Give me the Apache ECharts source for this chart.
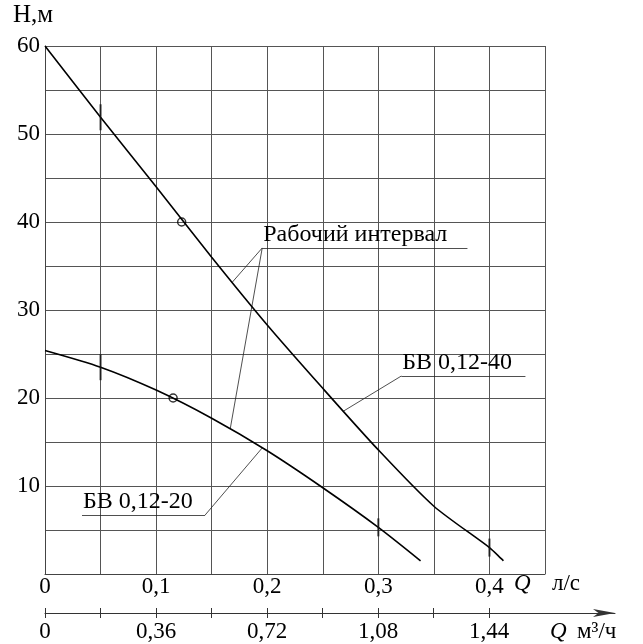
<!DOCTYPE html>
<html>
<head>
<meta charset="utf-8">
<script src="https://cdn.jsdelivr.net/npm/echarts@6/dist/echarts.min.js"></script>
<style>html,body{margin:0;padding:0;background:#fff;}#c{width:643px;height:644px;}</style>
</head>
<body>
<div id="c"></div>
<script>
// ---- data (Q in l/s, H in m) ----
const qUpper = [0, 0.05, 0.1, 0.15, 0.2, 0.25, 0.3, 0.35, 0.4, 0.4126];
const hUpper = [60, 51.9, 44.0, 36.0, 28.3, 21.1, 14.1, 7.7, 3.0, 1.5];
const qLower = [0, 0.05, 0.1, 0.15, 0.2, 0.25, 0.3, 0.338];
const hLower = [25.4, 23.5, 20.9, 17.7, 14.0, 9.8, 5.3, 1.5];
// nominal points (circles)
const qNominal = [0.123, 0.1153];
const hNominal = [40, 20];
// working interval bounds (short vertical strokes)
const qBoundsUpper = [0.05, 0.4];
const hBoundsUpper = [51.9, 3.0];
const qBoundsLower = [0.05, 0.3];
const hBoundsLower = [23.5, 5.3];
// tick labels
const lpsTickValues = [0, 0.1, 0.2, 0.3, 0.4];
const lpsTickLabels = ['0', '0,1', '0,2', '0,3', '0,4'];
const m3hTickLabels = ['0', '0,36', '0,72', '1,08', '1,44'];
const m3hMinorTicks = [0, 0.05, 0.1, 0.15, 0.2, 0.25, 0.3, 0.35, 0.4];
const yLabelValues = [10, 20, 30, 40, 50, 60];
// texts
const labelInterval = 'Рабочий интервал';
const label40 = 'БВ 0,12-40';
const label20 = 'БВ 0,12-20';

const FONT = '"Liberation Serif", "Times New Roman", serif';
const zip = (a, b) => a.map((v, i) => [v, b[i]]);

const chart = echarts.init(document.getElementById('c'), null, {renderer: 'canvas'});

const lineStyleThin = {color: '#222', width: 0.8, type: 'solid'};
const annotLabel = (txt) => ({
  show: true, formatter: txt, position: 'insideStartTop', distance: 1,
  color: '#000', fontFamily: FONT, fontSize: 24, padding: 0
});

const option = {
  animation: false,
  backgroundColor: '#fff',
  grid: [
    {left: 45, right: 98, top: 46, bottom: 70},
    {left: 45, right: 28, top: 590, bottom: 31}
  ],
  xAxis: [
    {
      gridIndex: 0, type: 'value', min: 0, max: 0.45, interval: 0.05,
      axisLine: {show: true, lineStyle: {color: '#444', width: 1}},
      axisTick: {show: false},
      splitLine: {show: true, lineStyle: {color: '#555', width: 1}},
      axisLabel: {
        customValues: lpsTickValues,
        formatter: (v) => lpsTickLabels[lpsTickValues.findIndex(t => Math.abs(t - v) < 1e-6)] ?? '',
        color: '#000', fontFamily: FONT, fontSize: 23, margin: 1
      }
    },
    {
      gridIndex: 1, type: 'value', min: 0, max: 0.5135,
      axisLine: {show: true, lineStyle: {color: '#333', width: 1}, symbol: ['none', 'arrow'], symbolSize: [6, 22]},
      axisTick: {show: true, customValues: m3hMinorTicks, length: 5, inside: false, lineStyle: {color: '#333'}},
      splitLine: {show: false},
      axisLabel: {
        customValues: lpsTickValues,
        formatter: (v) => m3hTickLabels[lpsTickValues.findIndex(t => Math.abs(t - v) < 1e-6)] ?? '',
        color: '#000', fontFamily: FONT, fontSize: 23, margin: 7
      }
    },
    {
      gridIndex: 1, type: 'value', min: 0, max: 0.5135, position: 'bottom',
      axisLine: {show: false},
      axisTick: {show: true, customValues: m3hMinorTicks, length: 5, inside: true, lineStyle: {color: '#333'}},
      splitLine: {show: false},
      axisLabel: {show: false}
    }
  ],
  yAxis: [
    {
      gridIndex: 0, type: 'value', min: 0, max: 60, interval: 5,
      axisLine: {show: true, lineStyle: {color: '#444', width: 1}},
      axisTick: {show: false},
      splitLine: {show: true, lineStyle: {color: '#555', width: 1}},
      axisLabel: {
        formatter: (v) => yLabelValues.includes(v) ? String(v) : '',
        color: '#000', fontFamily: FONT, fontSize: 23, margin: 5
      }
    },
    {
      gridIndex: 1, type: 'value', min: 0, max: 1, show: false
    }
  ],
  series: [
    {
      name: label40, type: 'line', xAxisIndex: 0, yAxisIndex: 0,
      data: zip(qUpper, hUpper), smooth: 0.25, showSymbol: false, symbol: 'none',
      lineStyle: {color: '#000', width: 1.6}, z: 5,
      markLine: {
        silent: true, symbol: 'none', animation: false,
        lineStyle: lineStyleThin,
        data: [
          [{coord: [0.1955, 37.05], label: annotLabel(labelInterval)}, {coord: [0.3802, 37.05]}],
          [{coord: [0.1955, 37.05], label: {show: false}}, {coord: [0.1685, 33.15]}],
          [{coord: [0.1955, 37.05], label: {show: false}}, {coord: [0.1667, 16.5]}],
          [{coord: [0.3207, 22.5], label: annotLabel(label40)}, {coord: [0.4324, 22.5]}],
          [{coord: [0.3207, 22.5], label: {show: false}}, {coord: [0.2685, 18.5]}],
          [{coord: [0.0333, 6.7], label: annotLabel(label20)}, {coord: [0.1441, 6.7]}],
          [{coord: [0.1441, 6.7], label: {show: false}}, {coord: [0.1955, 14.33]}]
        ]
      }
    },
    {
      name: label20, type: 'line', xAxisIndex: 0, yAxisIndex: 0,
      data: zip(qLower, hLower), smooth: 0.25, showSymbol: false, symbol: 'none',
      lineStyle: {color: '#000', width: 1.6}, z: 5
    },
    {
      name: 'bounds', type: 'scatter', xAxisIndex: 0, yAxisIndex: 0,
      data: zip(qBoundsUpper, hBoundsUpper).concat(zip(qBoundsLower, hBoundsLower)),
      symbol: 'rect', symbolSize: (v, p) => [2, (p.dataIndex % 2 === 0) ? 26 : 18],
      itemStyle: {color: '#111'}, z: 6
    },
    {
      name: 'nominal', type: 'scatter', xAxisIndex: 0, yAxisIndex: 0,
      data: zip(qNominal, hNominal),
      symbol: 'circle', symbolSize: 8,
      itemStyle: {color: 'rgba(255,255,255,0)', borderColor: '#000', borderWidth: 1.5}, z: 7
    }
  ],
  graphic: [
    {type: 'text', left: 13, top: 3, style: {text: 'Н,м', fontFamily: FONT, fontSize: 25, fill: '#000'}},
    {type: 'text', left: 514, top: 572, style: {text: 'Q', fontFamily: FONT, fontSize: 23, fontStyle: 'italic', fill: '#000'}},
    {type: 'text', left: 552, top: 572, style: {text: 'л/с', fontFamily: FONT, fontSize: 23, fill: '#000'}},
    {type: 'text', left: 550, top: 620, style: {text: 'Q', fontFamily: FONT, fontSize: 23, fontStyle: 'italic', fill: '#000'}},
    {type: 'text', left: 577, top: 620, style: {text: 'м³/ч', fontFamily: FONT, fontSize: 23, fill: '#000'}}
  ]
};
chart.setOption(option);
</script>
</body>
</html>
